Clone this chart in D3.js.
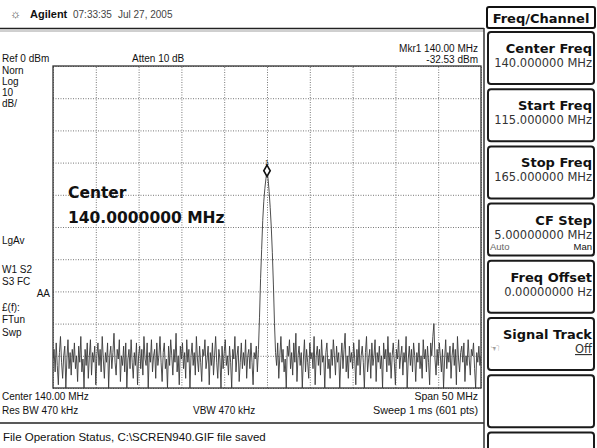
<!DOCTYPE html>
<html><head><meta charset="utf-8">
<script src="https://cdn.jsdelivr.net/npm/d3@7"></script>
<style>
body{margin:0;background:#fff}
svg{display:block}
text{font-family:"Liberation Sans",Arial,sans-serif;fill:#111}
</style>
</head><body><svg id="c" width="597" height="448"></svg>
<script>
// ---------- data ----------
const startFreq = 115.0, stopFreq = 165.0;           // MHz
const refLevel = 0, bottomLevel = -100;              // dBm
const freqGridTicks = [115,120,125,130,135,140,145,150,155,160,165];
const levelGridTicks = [0,-10,-20,-30,-40,-50,-60,-70,-80,-90,-100];
const traceStep = 0.125;                             // MHz between trace points
const traceDbm = [
 -91,-88,-95,-86,-93,-99,-89,-84,-92,-97,-90,-87,-101,-91,-85,-94,-89,-96,-88,-92,
 -86,-94,-90,-98,-87,-92,-84,-95,-91,-100,-88,-93,-86,-97,-90,-85,-96,-89,-92,-87,
 -99,-90,-86,-93,-88,-95,-84,-91,-97,-89,-92,-86,-101,-90,-87,-94,-89,-83,-92,-96,
 -88,-91,-85,-98,-90,-93,-87,-95,-86,-100,-91,-88,-94,-85,-92,-97,-89,-93,-86,-99,
 -90,-87,-94,-88,-96,-84,-91,-93,-86,-102,-89,-92,-85,-95,-90,-88,-97,-86,-93,-90,
 -84,-92,-98,-89,-86,-94,-91,-100,-87,-93,-85,-90,-96,-88,-92,-83,-95,-90,-99,-87,
 -91,-86,-94,-89,-97,-85,-92,-88,-101,-90,-86,-93,-89,-96,-84,-91,-95,-87,-92,-98,
 -88,-90,-85,-94,-91,-87,-99,-89,-93,-86,-96,-90,-84,-92,-97,-88,-91,-100,-87,-94,
 -89,-85,-93,-90,-96,-87,-92,-101,-88,-91,-84,-95,-90,-87,-98,-92,-86,-94,-89,-93,
 -85,-97,-90,-88,-94,-86,-92,-99,-89,-91,-87,-95,
 -88,-78,-66,-57,-48,-42,-38,-35,-32.53,-35,-39,-44,-50,-58,-68,-80,-89,
 -93,-86,-97,-90,-84,-92,-88,-95,-91,-100,-87,
 -90,-85,-94,-89,-96,-86,-92,-83,-98,-90,-87,-93,-89,-101,-91,-85,-95,-88,-92,-97,
 -86,-91,-89,-94,-84,-99,-90,-87,-93,-88,-96,-85,-92,-90,-100,-89,-86,-94,-91,-97,
 -88,-93,-85,-90,-96,-87,-92,-89,-102,-91,-86,-94,-88,-83,-95,-90,-97,-87,-92,-89,
 -94,-86,-91,-99,-88,-93,-85,-96,-90,-87,-92,-100,-89,-84,-95,-91,-88,-97,-86,-93,
 -90,-85,-98,-89,-92,-87,-94,-90,-101,-86,-91,-88,-95,-84,-93,-89,-97,-90,-86,-92,
 -99,-88,-91,-85,-94,-90,-87,-96,-89,-92,-84,-100,-91,-87,-93,-88,-95,-86,-90,-98,
 -89,-92,-86,-94,-90,-97,-85,-91,-88,-95,-87,-92,-99,-86,-90,-84,-80,-91,-96,-88,
 -93,-86,-90,-95,-88,-101,-91,-85,-94,-89,-92,-87,-97,-90,-86,-93,-88,-99,-84,-91,
 -95,-89,-87,-92,-86,-98,-90,-93,-85,-91,-96,-88,-90,-86,-94,-100,-89,-92,-87,-93,-90
];
const markerFreq = 140.00, markerDbm = -32.53;

const headerTexts = ["Agilent", "07:33:35", "Jul 27, 2005"];
const leftTopLabels = ["Norn", "Log", "10", "dB/"];
const leftMidLabels = ["LgAv", "W1  S2", "S3  FC", "AA", "£(f):", "FTun", "Swp"];
const softTitles = ["Center Freq", "Start Freq", "Stop Freq", "CF Step", "Freq Offset", "Signal Track", "", ""];
const softValues = ["140.000000 MHz", "115.000000 MHz", "165.000000 MHz", "5.00000000 MHz", "0.00000000   Hz", "Off", "", ""];

// ---------- layout ----------
const svg = d3.select("#c");
const plot = {l:53, r:481, t:66, b:388};
const x = d3.scaleLinear().domain([startFreq, stopFreq]).range([plot.l, plot.r]);
const y = d3.scaleLinear().domain([bottomLevel, refLevel]).range([plot.b, plot.t]).clamp(true);

// header
svg.append("text").attr("x", 10).attr("y", 18).style("font-size","12px").style("fill","#555").text("☼");
svg.append("text").attr("x", 30).attr("y", 18).style("font-size","11px").style("font-weight","bold").text(headerTexts[0]);
svg.append("text").attr("x", 73).attr("y", 18).style("font-size","10px").style("fill","#444").text(headerTexts[1]);
svg.append("text").attr("x", 118).attr("y", 18).style("font-size","10px").style("fill","#444").text(headerTexts[2]);
svg.append("line").attr("x1",0).attr("x2",484).attr("y1",28.5).attr("y2",28.5).attr("stroke","#222").attr("stroke-width",1.6);
svg.append("line").attr("x1",0).attr("x2",484).attr("y1",31).attr("y2",31).attr("stroke","#888").attr("stroke-width",0.8);

// settings texts
const small = (t, xx, yy, anchor, fs) => svg.append("text").attr("x", xx).attr("y", yy)
  .attr("text-anchor", anchor || "start").style("font-size", fs || "10px").text(t);
small("Ref 0 dBm", 2, 62);
small("Atten 10 dB", 132, 62);
small("Mkr1  140.00 MHz", 478, 52, "end");
small("-32.53 dBm", 478, 63, "end");
leftTopLabels.forEach((t,i) => small(t, 2, 74 + i*11));
small(leftMidLabels[0], 2, 244);
small(leftMidLabels[1], 2, 273);
small(leftMidLabels[2], 2, 285);
small(leftMidLabels[3], 50, 297, "end");
small(leftMidLabels[4], 2, 311);
small(leftMidLabels[5], 2, 323);
small(leftMidLabels[6], 2, 336);

// grid
const g = svg.append("g");
g.append("g").attr("transform", `translate(0,${plot.b})`)
  .call(d3.axisBottom(x).tickValues(freqGridTicks).tickSize(-(plot.b-plot.t)).tickFormat(""))
  .call(s => s.select(".domain").remove())
  .selectAll("line").attr("stroke","#777").attr("stroke-dasharray","1,1.5");
g.append("g").attr("transform", `translate(${plot.l},0)`)
  .call(d3.axisLeft(y).tickValues(levelGridTicks).tickSize(-(plot.r-plot.l)).tickFormat(""))
  .call(s => s.select(".domain").remove())
  .selectAll("line").attr("stroke","#777").attr("stroke-dasharray","1,1.5");
svg.append("rect").attr("x",plot.l).attr("y",plot.t).attr("width",plot.r-plot.l).attr("height",plot.b-plot.t)
  .attr("fill","none").attr("stroke","#333").attr("stroke-width",1.3);

// trace
svg.append("clipPath").attr("id","pc").append("rect")
  .attr("x",plot.l).attr("y",plot.t).attr("width",plot.r-plot.l).attr("height",plot.b-plot.t);
const line = d3.line().x((d,i) => x(startFreq + i*traceStep)).y(d => y(d));
svg.append("path").datum(traceDbm).attr("clip-path","url(#pc)")
  .attr("d", line).attr("fill","none").attr("stroke","#3a3a3a").attr("stroke-width",0.9);

// marker
svg.append("path").attr("d", d3.symbol(d3.symbolDiamond, 36)())
  .attr("transform", `translate(${x(markerFreq)},${y(markerDbm)})`)
  .attr("fill","#fff").attr("stroke","#111").attr("stroke-width",1.6);
svg.append("text").attr("x", x(markerFreq)).attr("y", y(markerDbm)-6).attr("text-anchor","middle")
  .style("font-size","7px").text("1");

// big center annotation
svg.append("text").attr("x",68).attr("y",198).style("font-family","DejaVu Sans").style("font-size","15.5px").style("font-weight","bold").text("Center");
svg.append("text").attr("x",68).attr("y",223).style("font-family","DejaVu Sans").style("font-size","15.5px").style("font-weight","bold").text("140.0000000 MHz");

// bottom texts
small("Center 140.00 MHz", 2, 400);
small("Span 50 MHz", 478, 400, "end", "10.5px");
small("Res BW 470 kHz", 2, 414);
small("VBW 470 kHz", 193, 414);
small("Sweep 1 ms (601 pts)", 478, 414, "end", "10.8px");
svg.append("line").attr("x1",0).attr("x2",484).attr("y1",423).attr("y2",423).attr("stroke","#222").attr("stroke-width",1.6);
svg.append("text").attr("x",3).attr("y",441).style("font-size","11.5px").text("File Operation Status, C:\\SCREN940.GIF file saved");

// right frame line
svg.append("line").attr("x1",484).attr("x2",484).attr("y1",28).attr("y2",448).attr("stroke","#333").attr("stroke-width",1.5);

// softkey panel
svg.append("rect").attr("x",487).attr("y",7).attr("width",108).attr("height",21).attr("rx",2)
  .attr("fill","#fff").attr("stroke","#111").attr("stroke-width",2);
svg.append("text").attr("x",541).attr("y",22.5).attr("text-anchor","middle")
  .style("font-family","DejaVu Sans").style("font-size","13px").style("font-weight","bold").text("Freq/Channel");
softTitles.forEach((t,i) => {
  const top = 32 + i*57.2;
  svg.append("rect").attr("x",488).attr("y",top).attr("width",106).attr("height",52).attr("rx",3)
    .attr("fill","#fff").attr("stroke","#1a1a1a").attr("stroke-width",2);
  if (t) svg.append("text").attr("x",592).attr("y",top+21).attr("text-anchor","end")
    .style("font-family","DejaVu Sans").style("font-size","13px").style("font-weight","bold").text(t);
  const v = softValues[i];
  if (v) {
    const tv = svg.append("text").attr("x",592).attr("y",top+35).attr("text-anchor","end")
      .style("font-family","DejaVu Sans").style("font-size","11.5px").style("fill","#333").text(v);
    if (t === "Signal Track") tv.style("text-decoration","underline");
  }
  if (t === "CF Step") {
    svg.append("text").attr("x",490).attr("y",top+46).style("font-size","9.5px").style("fill","#666").text("Auto");
    svg.append("text").attr("x",592).attr("y",top+46).attr("text-anchor","end").style("font-size","9.5px").text("Man");
  }
  if (t === "Signal Track") {
    svg.append("text").attr("x",490).attr("y",top+34).style("font-family","DejaVu Sans").style("font-size","11px").style("fill","#555").text("☜");
  }
});
</script></body></html>
